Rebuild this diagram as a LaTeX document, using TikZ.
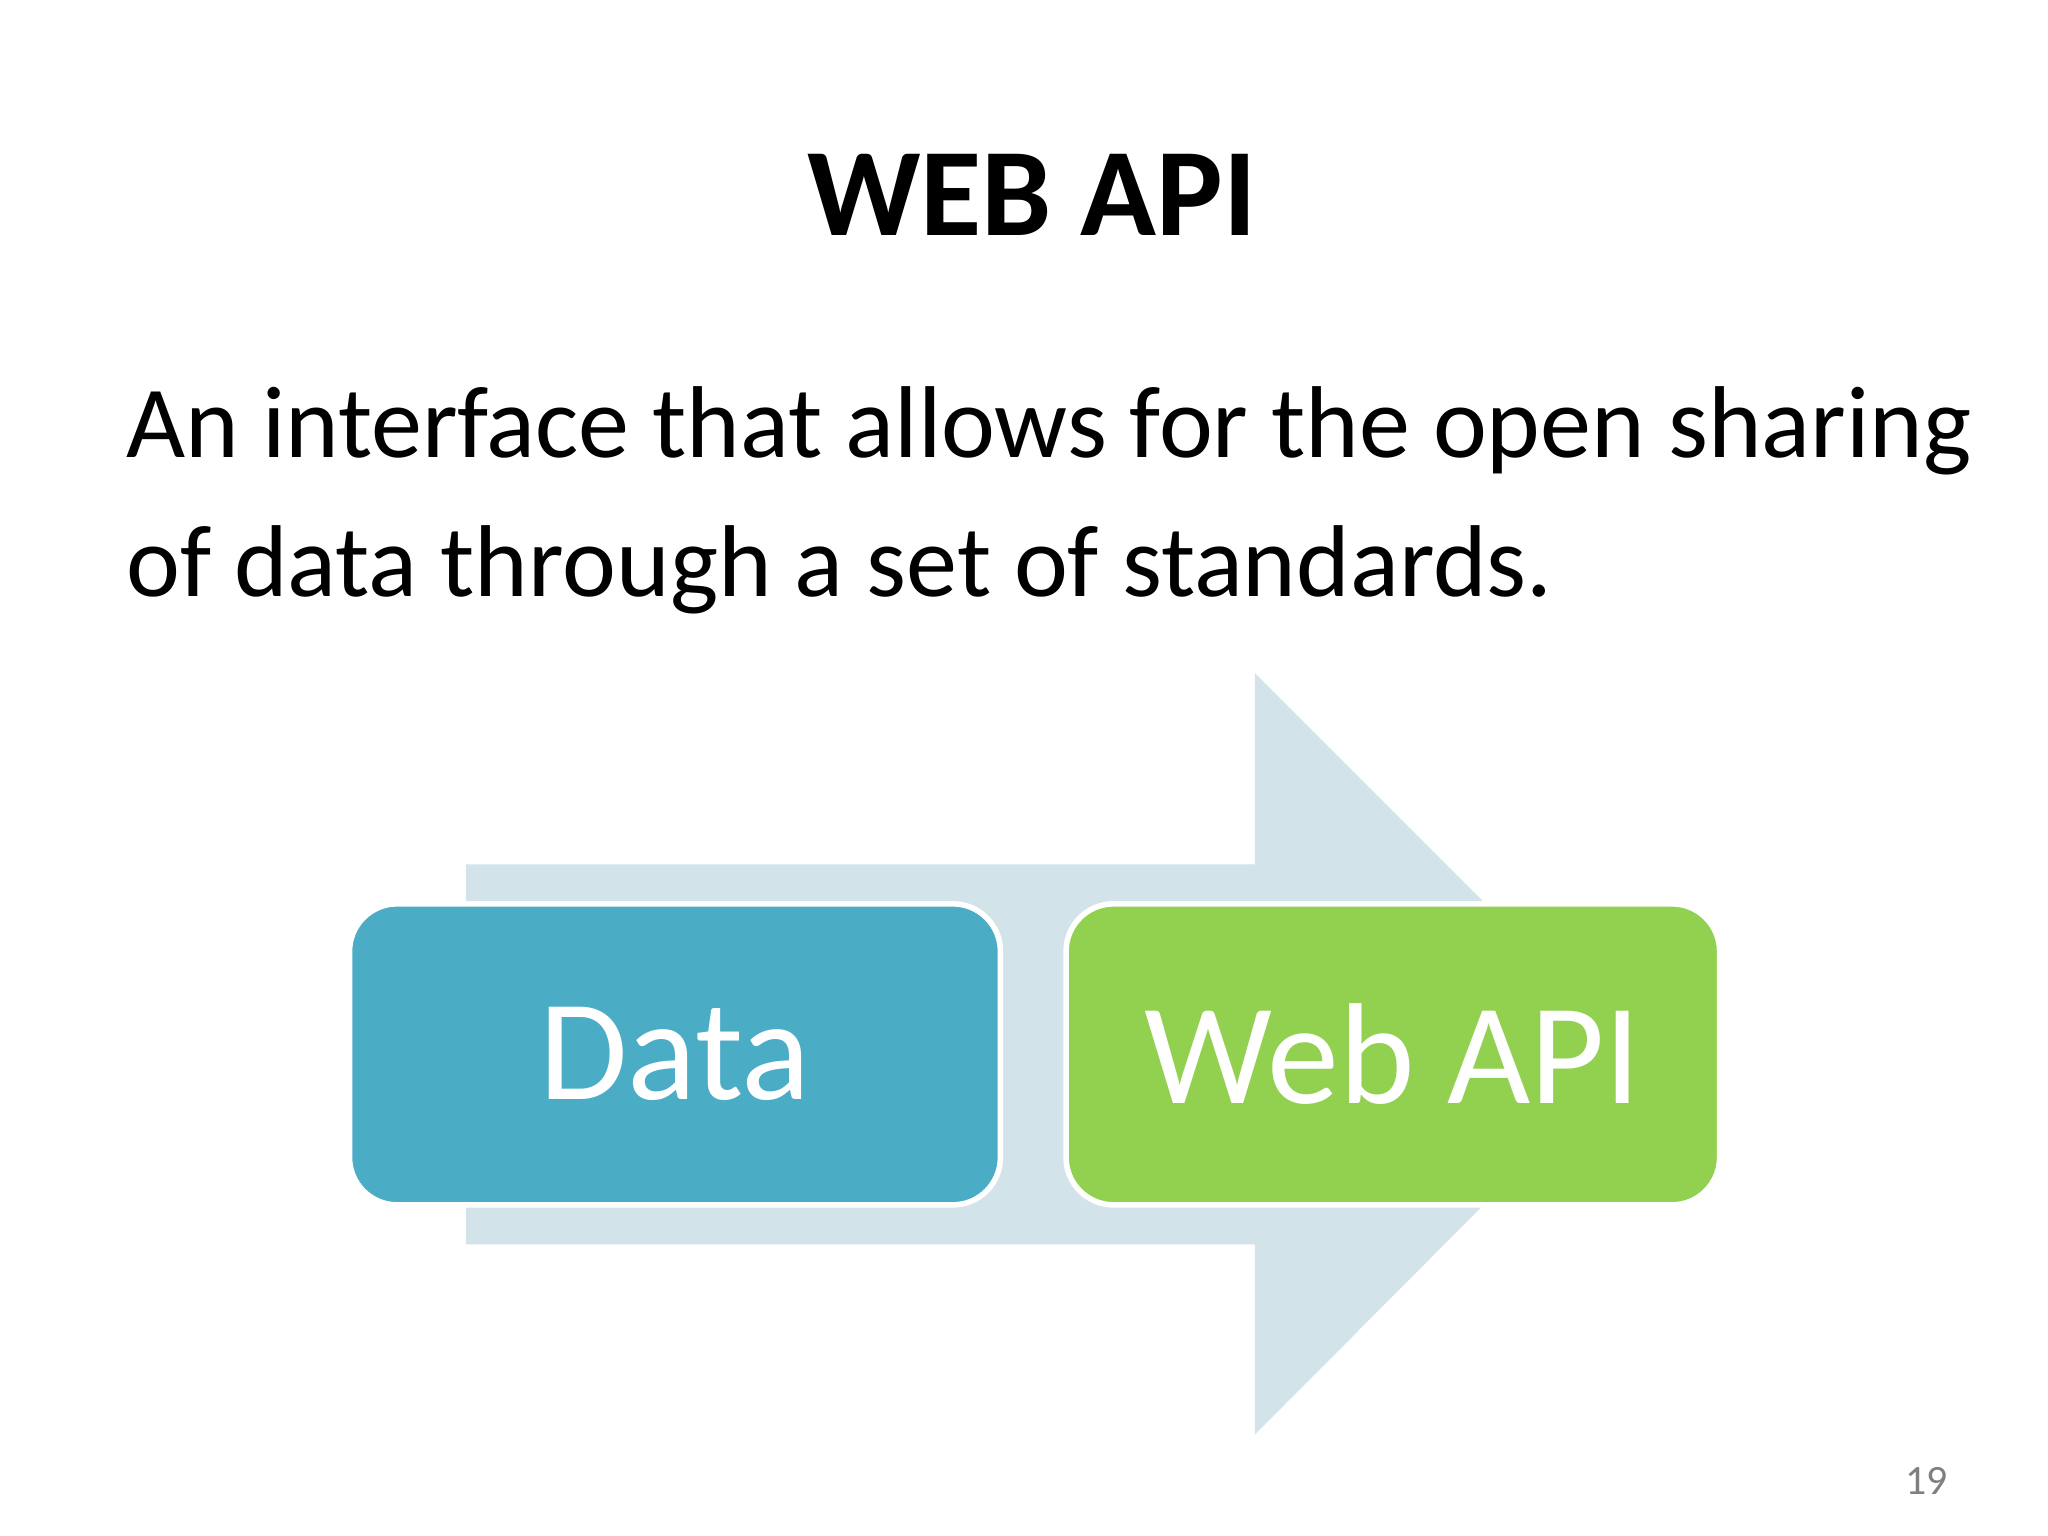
\documentclass[tikz,border=0pt]{standalone}
\usepackage{fontspec}
\setmainfont{Carlito}
\definecolor{arrowc}{HTML}{D2E3EA}
\definecolor{datac}{HTML}{4BACC6}
\definecolor{apic}{HTML}{92D050}
\begin{document}
\begin{tikzpicture}[x=0.01cm,y=-0.01cm,
  boxst/.style={draw=white,line width=1.2pt,rounded corners=0.36cm,text=white,font=\fontsize{31}{36}\selectfont}]
\useasboundingbox[fill=white] (0,0) rectangle (1552,1164);
\node[font=\bfseries\fontsize{27}{32}\selectfont] (title) at (782,148) {WEB API};
\node[font=\fontsize{22}{30}\selectfont,anchor=north west,align=left,inner sep=0] (body) at (95,292)
 {An interface that allows for the open sharing\\of data through a set of standards.};
\fill[arrowc] (353,655) -- (951,655) -- (951,510) -- (1239,798) -- (951,1087) -- (951,943) -- (353,943) -- cycle;
\node[boxst,fill=datac,minimum width=4.93cm,minimum height=2.28cm] (data) at (511.5,799) {Data};
\node[boxst,fill=apic,minimum width=4.95cm,minimum height=2.28cm] (api) at (1055.5,799) {Web API};
\node[text=gray,font=\fontsize{9}{11}\selectfont] (page) at (1460,1122) {19};
\end{tikzpicture}
\end{document}
